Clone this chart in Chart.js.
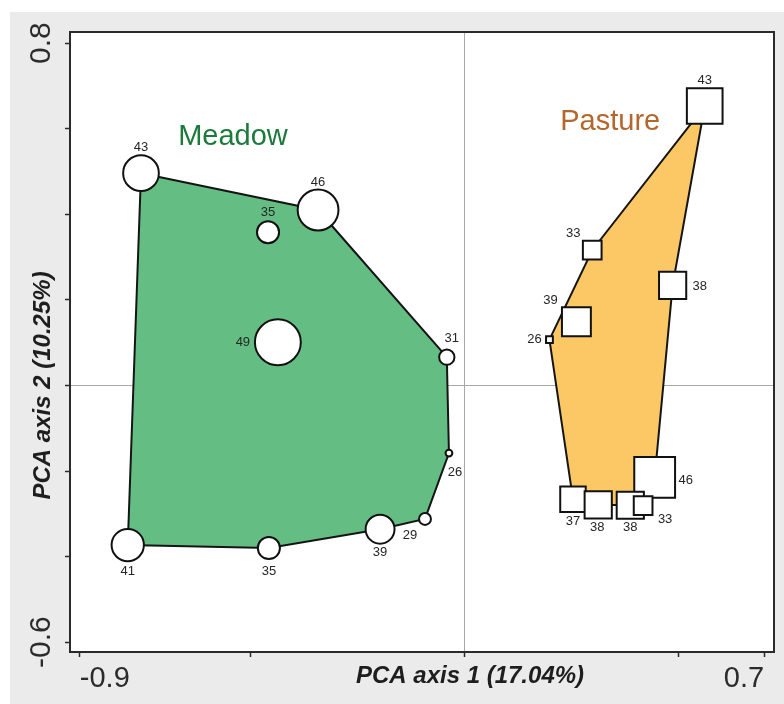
<!DOCTYPE html>
<html lang="en">
<head>
    <meta charset="UTF-8">
    <title>PCA Meadow / Pasture</title>
    <script src="https://cdn.jsdelivr.net/npm/chart.js"></script>
    <style>
        body { margin: 0; background: #fff; }
        canvas { display: block; }
    </style>
</head>
<body>
    <canvas id="pca" width="784" height="704"></canvas>

    <script>
        // Meadow sites (circles)
        const meadowX = [-0.757, -0.343, -0.460, -0.437, -0.042, -0.037, -0.093, -0.198, -0.458, -0.788];
        const meadowY = [0.496, 0.410, 0.358, 0.101, 0.066, -0.158, -0.312, -0.336, -0.380, -0.373];
        const meadowN = [43, 46, 35, 49, 31, 26, 29, 39, 35, 41];
        const meadowHull = [0, 1, 4, 5, 6, 7, 8, 9];

        // Pasture sites (squares)
        const pastureX = [0.561, 0.298, 0.486, 0.261, 0.198, 0.444, 0.253, 0.312, 0.387, 0.417];
        const pastureY = [0.653, 0.316, 0.234, 0.149, 0.107, -0.215, -0.266, -0.279, -0.280, -0.281];
        const pastureN = [43, 33, 38, 39, 26, 46, 37, 38, 38, 33];
        const pastureHull = [0, 2, 5, 9, 8, 7, 6, 4, 1];

        const xTicks = [-0.9, -0.5, 0, 0.5, 0.7];
        const yTicks = [-0.6, -0.4, -0.2, 0, 0.2, 0.4, 0.6, 0.8];
        const xTickLabels = ['-0.9', '0.7'];
        const yTickLabels = ['-0.6', '0.8'];

        // label placement next to each marker (pixels)
        const meadowLabelOffset = [[0,-26],[0,-28],[0,-20],[-35,0],[5,-19],[6,19],[-15,16],[0,23],[0,23],[0,26]];
        const pastureLabelOffset = [[0,-26],[-19,-17],[27,1],[-26,-21],[-15,0],[31,3],[0,22],[-1,23],[0,22],[22,14]];

        const FONT = '"Liberation Sans", Arial, sans-serif';

        function markerSize(n) {
            return Math.max(2, (n - 22) * 0.85);
        }

        function points(xs, ys, ns) {
            return xs.map((x, i) => ({ x: x, y: ys[i], n: ns[i] }));
        }

        function hull(xs, ys, idx) {
            const pts = idx.map(i => ({ x: xs[i], y: ys[i] }));
            pts.push(pts[0]);
            return pts;
        }

        function tickLabel(list) {
            return function (value) {
                const s = String(Math.round(value * 10) / 10);
                return list.indexOf(s) >= 0 ? s : '';
            };
        }

        const framePlugin = {
            id: 'frame',
            beforeDraw(chart) {
                const c = chart.ctx, a = chart.chartArea;
                c.save();
                c.fillStyle = '#ffffff';
                c.fillRect(0, 0, chart.width, chart.height);
                c.fillStyle = '#ebebec';
                c.fillRect(10, 12, chart.width - 10, chart.height - 12);
                c.fillStyle = '#ffffff';
                c.fillRect(a.left, a.top, a.right - a.left, a.bottom - a.top);
                c.restore();
            },
            afterDraw(chart) {
                const c = chart.ctx, a = chart.chartArea;
                const xs = chart.scales.x, ys = chart.scales.y;
                c.save();
                c.strokeStyle = '#2a2a2a';
                c.lineWidth = 2;
                c.strokeRect(a.left, a.top, a.right - a.left, a.bottom - a.top);

                // numbers next to markers
                c.font = '13px ' + FONT;
                c.fillStyle = '#262626';
                c.textAlign = 'center';
                c.textBaseline = 'middle';
                meadowX.forEach((x, i) => {
                    const o = meadowLabelOffset[i];
                    c.fillText(meadowN[i], xs.getPixelForValue(x) + o[0], ys.getPixelForValue(meadowY[i]) + o[1]);
                });
                pastureX.forEach((x, i) => {
                    const o = pastureLabelOffset[i];
                    c.fillText(pastureN[i], xs.getPixelForValue(x) + o[0], ys.getPixelForValue(pastureY[i]) + o[1]);
                });

                // group names
                c.font = '29px ' + FONT;
                c.fillStyle = '#1c7a3b';
                c.fillText('Meadow', xs.getPixelForValue(-0.542), ys.getPixelForValue(0.58));
                c.fillStyle = '#b4662c';
                c.fillText('Pasture', xs.getPixelForValue(0.34), ys.getPixelForValue(0.615));

                // axis titles
                c.font = 'italic bold 24px ' + FONT;
                c.fillStyle = '#1e1e1e';
                c.fillText('PCA axis 1 (17.04%)', 470, 676);
                c.translate(43, ys.getPixelForValue(0));
                c.rotate(-Math.PI / 2);
                c.fillText('PCA axis 2 (10.25%)', 0, 0);
                c.restore();
            }
        };

        new Chart(document.getElementById('pca'), {
            type: 'scatter',
            data: {
                datasets: [
                    {
                        label: 'Meadow sites',
                        data: points(meadowX, meadowY, meadowN),
                        order: 1,
                        pointStyle: 'circle',
                        pointRadius: ctx => ctx.raw ? markerSize(ctx.raw.n) : 0,
                        pointBackgroundColor: '#ffffff',
                        pointBorderColor: '#111111',
                        pointBorderWidth: 2
                    },
                    {
                        label: 'Pasture sites',
                        data: points(pastureX, pastureY, pastureN),
                        order: 1,
                        pointStyle: 'rect',
                        pointRadius: ctx => ctx.raw ? markerSize(ctx.raw.n) / Math.SQRT1_2 : 0,
                        pointBackgroundColor: '#ffffff',
                        pointBorderColor: '#111111',
                        pointBorderWidth: 2
                    },
                    {
                        label: 'Meadow hull',
                        data: hull(meadowX, meadowY, meadowHull),
                        order: 2,
                        showLine: true,
                        fill: 'shape',
                        tension: 0,
                        pointRadius: 0,
                        borderColor: '#151515',
                        borderWidth: 2,
                        backgroundColor: '#64be83'
                    },
                    {
                        label: 'Pasture hull',
                        data: hull(pastureX, pastureY, pastureHull),
                        order: 2,
                        showLine: true,
                        fill: 'shape',
                        tension: 0,
                        pointRadius: 0,
                        borderColor: '#151515',
                        borderWidth: 2,
                        backgroundColor: '#fcc866'
                    }
                ]
            },
            options: {
                responsive: false,
                animation: false,
                devicePixelRatio: 1,
                events: [],
                layout: { autoPadding: false, padding: { top: 32, right: 10, left: 0, bottom: 0 } },
                plugins: {
                    legend: { display: false },
                    tooltip: { enabled: false }
                },
                scales: {
                    x: {
                        type: 'linear',
                        min: -0.923,
                        max: 0.723,
                        afterBuildTicks: s => { s.ticks = xTicks.map(v => ({ value: v })); },
                        afterFit: s => { s.height = 52; s.paddingLeft = 0; s.paddingRight = 0; },
                        border: { display: false },
                        grid: {
                            color: ctx => ctx.tick && ctx.tick.value === 0 ? '#a8a8a8' : 'rgba(0,0,0,0)',
                            tickColor: '#2a2a2a',
                            tickLength: 5,
                            lineWidth: 1,
                            tickWidth: 1.5
                        },
                        ticks: {
                            autoSkip: false,
                            maxRotation: 0,
                            align: 'inner',
                            padding: 5,
                            color: '#2b2b2b',
                            font: { family: FONT, size: 29 },
                            callback: tickLabel(xTickLabels)
                        }
                    },
                    y: {
                        type: 'linear',
                        min: -0.623,
                        max: 0.826,
                        afterBuildTicks: s => { s.ticks = yTicks.map(v => ({ value: v })); },
                        afterFit: s => { s.width = 70; s.paddingTop = 0; s.paddingBottom = 0; },
                        border: { display: false },
                        grid: {
                            color: ctx => ctx.tick && Math.abs(ctx.tick.value) < 1e-9 ? '#a8a8a8' : 'rgba(0,0,0,0)',
                            tickColor: '#2a2a2a',
                            tickLength: 5,
                            lineWidth: 1,
                            tickWidth: 1.5
                        },
                        ticks: {
                            autoSkip: false,
                            minRotation: 90,
                            maxRotation: 90,
                            crossAlign: 'center',
                            padding: -3,
                            color: '#2b2b2b',
                            font: { family: FONT, size: 30 },
                            callback: tickLabel(yTickLabels)
                        }
                    }
                }
            },
            plugins: [framePlugin]
        });
    </script>
</body>
</html>
